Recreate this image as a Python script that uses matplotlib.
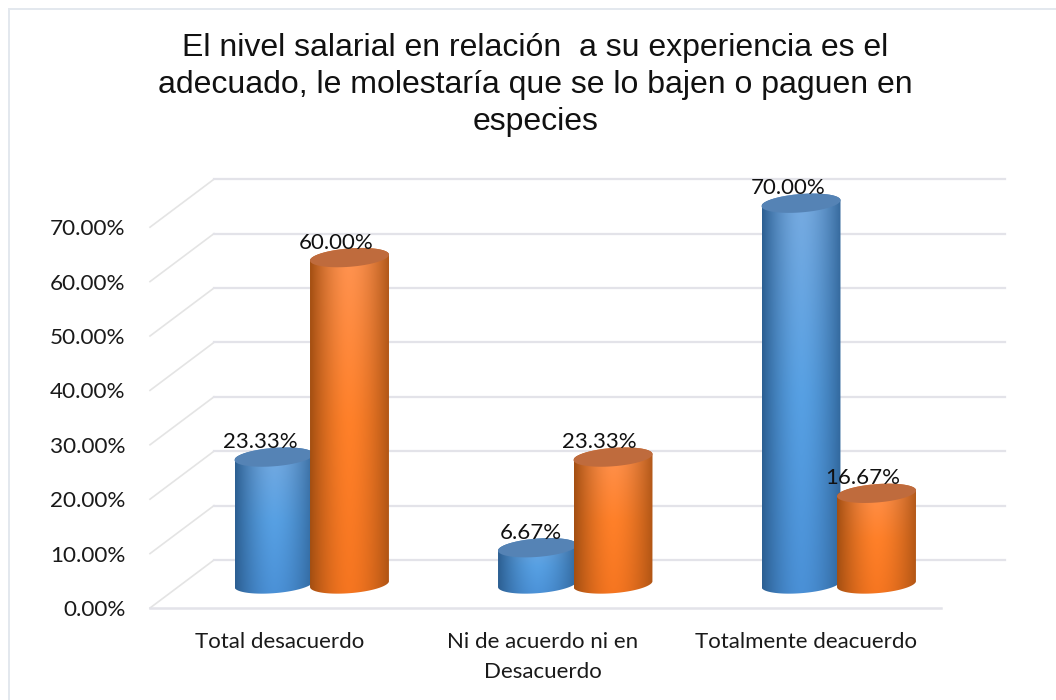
import numpy as np
import matplotlib
matplotlib.use("Agg")
import matplotlib.pyplot as plt
from matplotlib.patches import PathPatch
from matplotlib.lines import Line2D
from matplotlib.path import Path
from matplotlib.transforms import ScaledTranslation

titulo = "El nivel salarial en relación  a su experiencia es el\nadecuado, le molestaría que se lo bajen o paguen en\nespecies"
categorias = ["Total desacuerdo", "Ni de acuerdo ni en\nDesacuerdo", "Totalmente deacuerdo"]
serie_azul = [23.33, 6.67, 70.00]
serie_naranja = [60.00, 23.33, 16.67]
ticks = [0, 10, 20, 30, 40, 50, 60, 70]

W, H = 1056, 700
X0, X1, Y0, Y1 = 150, 1005, 608, 170   # caja del eje en pixeles
PX_X = 263.5      # pixeles por categoria
PX_Y = 5.44       # pixeles por punto porcentual
FONDO_X = 64 / PX_X
FONDO_Y = 48 / PX_Y
BASE_X = 30 / PX_X
BASE_Y = 24 / PX_Y
PASO = 75.5 / PX_X
ANCHO = 79 / PX_X
SEMI_A = ANCHO / 2
SEMI_B = 9.2 / PX_Y
INCL = 0.075   # subida de la elipse a lo ancho, en pixeles por pixel

AZUL = dict(tapa="#5583b5", arriba="#78abe0", medio="#57a0e3", abajo="#4a90d6", borde="#2c5f92")
NARANJA = dict(tapa="#bf6b3d", arriba="#ff9453", medio="#ff8029", abajo="#f57520", borde="#a44f12")

plt.rcParams["font.family"] = ["Lato", "DejaVu Sans"]
fig = plt.figure(figsize=(W / 100, H / 100), dpi=100)
ax = fig.add_axes([X0 / W, 1 - Y0 / H, (X1 - X0) / W, (Y0 - Y1) / H])
ax.patch.set_visible(False)
for s in ax.spines.values():
    s.set_visible(False)

# marco: solo se ve arriba y a la izquierda
marco = "#e3e8ee"
fig.add_artist(Line2D([8.5 / W, 8.5 / W], [0, 1 - 8.5 / H], color=marco, lw=1.4))
fig.add_artist(Line2D([8.5 / W, 1], [1 - 8.5 / H, 1 - 8.5 / H], color=marco, lw=1.4))

# rejilla con profundidad
gris = "#e3e3e9"
xfin = 2.5
for t in ticks:
    ax.plot([-0.5, -0.5 + FONDO_X], [t, t + FONDO_Y], color="#e4e4e4", lw=1.2, clip_on=False, zorder=1)
    ax.plot([-0.5 + FONDO_X, xfin + FONDO_X], [t + FONDO_Y, t + FONDO_Y], color=gris, lw=1.6, clip_on=False, zorder=1)
ax.plot([-0.5, xfin], [0, 0], color=gris, lw=1.8, clip_on=False, zorder=1)


def rampa(col):
    # sombreado del cilindro: oscuro en los lados, claro hacia el centro
    a = np.array(matplotlib.colors.to_rgb(col["arriba"]))
    m = np.array(matplotlib.colors.to_rgb(col["medio"]))
    b = np.array(matplotlib.colors.to_rgb(col["abajo"]))
    e = np.array(matplotlib.colors.to_rgb(col["borde"]))
    v = np.linspace(0, 1, 60)[:, None]
    vert = np.where(v < 0.5, a + (m - a) * v * 2, m + (b - m) * (v - 0.5) * 2)
    u = np.linspace(0, 1, 80)
    luz = np.abs(u - 0.5) / 0.5
    luz = luz ** 1.7 * np.where(u > 0.5, 0.85, 1.0)
    return vert[:, None, :] * (1 - luz[None, :, None]) + e[None, None, :] * luz[None, :, None]


def cilindro(xc, valor, col, z):
    x0, x1 = xc - ANCHO / 2, xc + ANCHO / 2
    yb, yt = BASE_Y, valor + BASE_Y
    t = np.linspace(0, 2 * np.pi, 100)
    ex = SEMI_A * np.cos(t)
    ey = SEMI_B * np.sin(t) + INCL * SEMI_A * np.cos(t) * PX_X / PX_Y
    inf = (t > np.pi) & (t < 2 * np.pi)
    bx, by = xc + ex[inf], yb + ey[inf]
    top = t < np.pi
    tx, ty = xc + ex[top], yt + ey[top]
    verts = np.r_[np.c_[bx, by], np.c_[tx, ty], [[bx[0], by[0]]]]
    codes = [Path.MOVETO] + [Path.LINETO] * (len(verts) - 2) + [Path.CLOSEPOLY]
    sil = PathPatch(Path(verts, codes), fc="none", ec="none", zorder=z)
    ax.add_patch(sil)
    im = ax.imshow(rampa(col), extent=[x0, x1, yb - SEMI_B * 1.5, yt + SEMI_B * 1.5], aspect="auto",
                   origin="upper", interpolation="bilinear", zorder=z)
    im.set_clip_path(sil)
    ax.fill(xc + ex, yt + ey, color=col["tapa"], lw=0, zorder=z + 0.1, clip_on=False)


def etiqueta(xc, valor):
    ax.annotate(f"{valor:.2f}%", (xc, valor + BASE_Y), xytext=(24 * 0.72, 15 * 0.72), textcoords="offset points",
                ha="right", va="center", fontsize=16, zorder=10, color="#111111")


for i in range(len(categorias)):
    xa = i + BASE_X - PASO / 2
    xn = i + BASE_X + PASO / 2
    cilindro(xa, serie_azul[i], AZUL, 3 + i)
    cilindro(xn, serie_naranja[i], NARANJA, 3.5 + i)
    etiqueta(xa, serie_azul[i])
    etiqueta(xn, serie_naranja[i])

ax.set_xlim(-0.5, -0.5 + (X1 - X0) / PX_X)
ax.set_ylim(0, (Y0 - Y1) / PX_Y)
ax.set_yticks(ticks)
ax.set_yticklabels([f"{t:.2f}%" for t in ticks], fontsize=16.2, color="#1a1a1a")
ax.set_xticks(range(len(categorias)))
ax.set_xticklabels(categorias, fontsize=16, color="#1a1a1a", linespacing=1.68)
ax.tick_params(length=0)
ax.tick_params(axis="y", pad=17.5)
ax.tick_params(axis="x", pad=17)
corrimiento = ScaledTranslation(-2.5 / 100, 0, fig.dpi_scale_trans)
for lab in ax.get_xticklabels():
    lab.set_transform(lab.get_transform() + corrimiento)

fig.text(535.5 / W, 1 - 33 / H, titulo, ha="center", va="top", fontsize=23, family="Liberation Sans",
         color="#111111", linespacing=1.31)

fig.savefig("out.png", dpi=100)
